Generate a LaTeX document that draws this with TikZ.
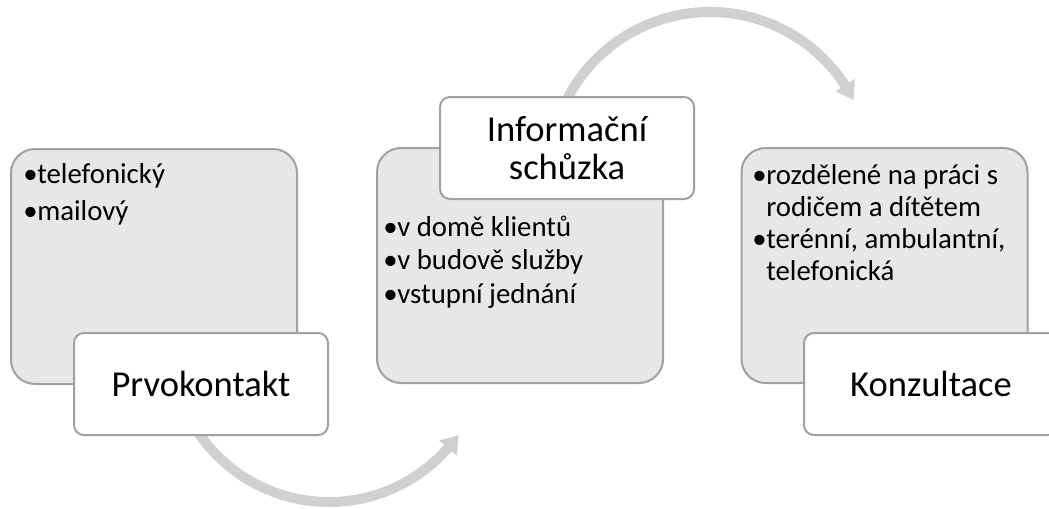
\documentclass[tikz,border=0pt]{standalone}
\usepackage{fontspec}
\setmainfont{Carlito}
\usetikzlibrary{arrows.meta,bending}

\definecolor{boxfill}{RGB}{231,231,231}
\definecolor{boxline}{RGB}{160,160,160}
\definecolor{arcgray}{RGB}{208,208,208}

\newcommand{\bul}{\makebox[10.5pt][l]{\textbullet}}
\newcommand{\ind}{\hspace*{10.5pt}}

\begin{document}
\begin{tikzpicture}[x=0.75pt,y=-0.75pt,
  graybox/.style={draw=boxline,line width=1.5pt,fill=boxfill,rounded corners=18pt,
                  minimum width=214.5pt,minimum height=176.25pt},
  whitebox/.style={draw=boxline,line width=1.5pt,fill=white,rounded corners=7.5pt,
                   minimum width=190.5pt,minimum height=76.5pt,
                   font=\fontsize{27.4pt}{28.5pt}\selectfont,align=center},
  itemtext/.style={inner sep=0pt,align=left,anchor=base west,
                   font=\fontsize{21.6pt}{25pt}\selectfont},
  bendarrow/.style={arcgray,line width=7.5pt,
                    -{Triangle[width=16.5pt,length=12.75pt,bend]}}]
 % fix the page to the reference size
 \clip (0,0) rectangle (1049,508);

 % draw the curved arrows first, they run under the boxes
 \draw[bendarrow] (329,344) ++(150:158) arc[start angle=150,end angle=35,radius=158];
 \draw[bendarrow] (710,173) ++(205:161) arc[start angle=205,end angle=333,radius=161];

 % draw the gray boxes
 \node[graybox] (prvbox) at (154,266.5) {};
 \node[graybox] (infbox) at (520,265.5) {};
 \node[graybox] (konbox) at (884.5,265.5) {};

 % the bullet lists (base is the last line)
 \node[itemtext,font=\fontsize{21.6pt}{27.5pt}\selectfont]
      (prvitems) at (23,220) {\bul telefonický\\\bul mailový};
 \node[itemtext] (infitems) at (383,303)
      {\bul v domě klientů\\\bul v budově služby\\\bul vstupní jednání};
 \node[itemtext,font=\fontsize{21.6pt}{24pt}\selectfont]
      (konitems) at (752,280)
      {\bul rozdělené na práci s\\\ind rodičem a dítětem\\\bul terénní, ambulantní,\\\ind telefonická};

 % draw the white title boxes
 \node[whitebox] (prvtitle) at (201,384) {Prvokontakt};
 \node[whitebox] (inftitle) at (567,148) {Informační\\schůzka};
 \node[whitebox] (kontitle) at (931,384) {Konzultace};
\end{tikzpicture}
\end{document}
